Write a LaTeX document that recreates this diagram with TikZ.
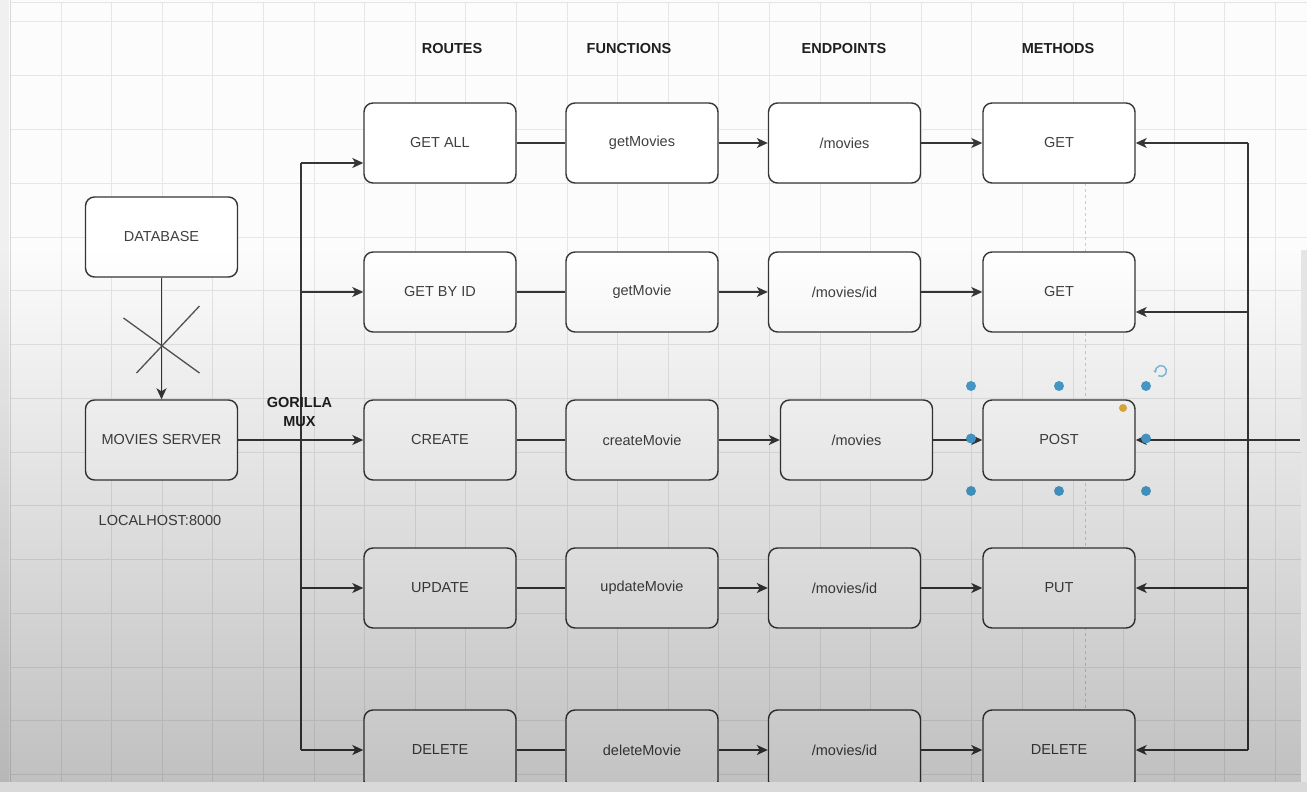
\documentclass[tikz,border=0pt]{standalone}
\usepackage{fontspec}
\setmainfont{Liberation Sans}
\usetikzlibrary{arrows.meta,fadings}
\definecolor{gridc}{HTML}{E6E6E6}
\definecolor{linec}{HTML}{363636}
\definecolor{txtc}{HTML}{404040}
\definecolor{handle}{HTML}{4A9FD2}
\definecolor{knob}{HTML}{E3B23C}
\tikzfading[name=darkdown, top color=transparent!100, middle color=transparent!92, bottom color=transparent!76]
\begin{document}
\begin{tikzpicture}[x=1pt,y=-1pt,
  box/.style={draw=linec, line width=1.4pt, rounded corners=9pt, fill=white,
    minimum width=152pt, minimum height=80pt, inner sep=0pt, text=txtc,
    font=\fontsize{14.5}{17}\selectfont},
  head/.style={font=\fontsize{14.5}{19}\selectfont\bfseries, text=black!88, align=center},
  plain/.style={font=\fontsize{14.5}{17}\selectfont, text=txtc},
  wire/.style={draw=linec, line width=1.4pt},
  arr/.style={wire, -{Stealth[length=11pt,width=10pt,inset=3pt]}},
  dot/.style={circle, fill=handle, inner sep=0pt, minimum size=10pt}
]
\useasboundingbox (0,0) rectangle (1307,792);
% canvas and grid
\fill[white!99!black] (0,0) rectangle (1307,792);
\fill[white!94!black] (0,0) rectangle (9,792);
\foreach \i in {1,...,25} \draw[gridc, line width=1pt] (10.4+50.6*\i,3) -- (10.4+50.6*\i,792);
\foreach \j in {0,...,14} \draw[gridc, line width=1pt] (10,22+53.75*\j) -- (1307,22+53.75*\j);
\draw[white!85!black, line width=1pt] (10,0) -- (10,792);
\draw[white!90!black, line width=1pt] (10,2.5) -- (1307,2.5);
% alignment guide
\draw[white!80!black, line width=0.8pt, dashed] (1085,183) -- (1085,710);

% column headings
\node[head] (hR) at (452,49) {ROUTES};
\node[head] (hF) at (629,49) {FUNCTIONS};
\node[head] (hE) at (844,49) {ENDPOINTS};
\node[head] (hM) at (1058,49) {METHODS};

% server side
\node[box] (db) at (161.5,237) {DATABASE};
\node[box] (srv) at (161.5,440) {MOVIES SERVER};
\node[plain] (host) at (160,521) {LOCALHOST:8000};

% routes
\node[box] (r1) at (440,143) {GET ALL};
\node[box] (r2) at (440,292) {GET BY ID};
\node[box] (r3) at (440,440) {CREATE};
\node[box] (r4) at (440,588) {UPDATE};
\node[box] (r5) at (440,750) {DELETE};
% functions
\node[box] (f1) at (642,143) {getMovies};
\node[box] (f2) at (642,292) {getMovie};
\node[box] (f3) at (642,440) {createMovie};
\node[box] (f4) at (642,588) {updateMovie};
\node[box] (f5) at (642,750) {deleteMovie};
% endpoints
\node[box] (e1) at (844.5,143) {/movies};
\node[box] (e2) at (844.5,292) {/movies/id};
\node[box] (e3) at (856.5,440) {/movies};
\node[box] (e4) at (844.5,588) {/movies/id};
\node[box] (e5) at (844.5,750) {/movies/id};
% methods
\node[box] (m1) at (1059,143) {GET};
\node[box] (m2) at (1059,292) {GET};
\node[box] (m3) at (1059,440) {POST};
\node[box] (m4) at (1059,588) {PUT};
\node[box] (m5) at (1059,750) {DELETE};

% database link, struck through
\draw[arr] (db) -- (srv);
\draw[linec!85, line width=1.3pt] (123.5,318) -- (199.5,373);
\draw[linec!85, line width=1.3pt] (199.5,306) -- (136.5,373);

% router bus
\coordinate (l1) at (301,163);
\coordinate (l2) at (301,292);
\coordinate (l4) at (301,588);
\coordinate (l5) at (301,750);
\draw[wire] (l1) -- (l5);
\draw[arr] (l1) -- (l1 -| r1.west);
\draw[arr] (l2) -- (r2.west);
\draw[arr] (srv) -- (r3);
\draw[arr] (l4) -- (r4.west);
\draw[arr] (l5) -- (r5.west);
\node[head] (mux) at (299.5,412.5) {GORILLA\\MUX};

% route -> function -> endpoint -> method
\foreach \k in {1,...,5} {
  \draw[wire] (r\k) -- (f\k);
  \draw[arr] (f\k) -- (e\k);
  \draw[arr] (e\k) -- (m\k);
}

% return bus on the right
\coordinate (b1) at (1248,143);
\coordinate (b2) at (1248,312);
\coordinate (b4) at (1248,588);
\coordinate (b5) at (1248,750);
\coordinate (bx) at (1300,440);
\draw[wire] (b1) -- (b5);
\draw[arr] (b1) -- (m1.east);
\draw[arr] (b2) -- (b2 -| m2.east);
\draw[arr] (bx) -- (m3.east);
\draw[arr] (b4) -- (m4.east);
\draw[arr] (b5) -- (m5.east);

% selection handles on POST
\node[dot] (h1) at (971,386) {};
\node[dot] (h2) at (1059,386) {};
\node[dot] (h3) at (1146,386) {};
\node[dot] (h4) at (971,438.5) {};
\node[dot] (h5) at (1146,438.5) {};
\node[dot] (h6) at (971,491) {};
\node[dot] (h7) at (1059,491) {};
\node[dot] (h8) at (1146,491) {};
\node[circle, fill=knob, inner sep=0pt, minimum size=8pt] (kn) at (1123,408) {};
\draw[handle!70, line width=1.4pt, -{Stealth[length=3pt,width=4pt]}] (1161,371) ++(120:5.5) arc[start angle=120, end angle=-200, radius=5.5];

% lower shading of the canvas
\fill[black, path fading=darkdown] (0,250) rectangle (1307,792);
\fill[white!85!black] (0,782) rectangle (1307,792);
\fill[white!90!black] (1301,250) rectangle (1307,782);
\end{tikzpicture}
\end{document}
